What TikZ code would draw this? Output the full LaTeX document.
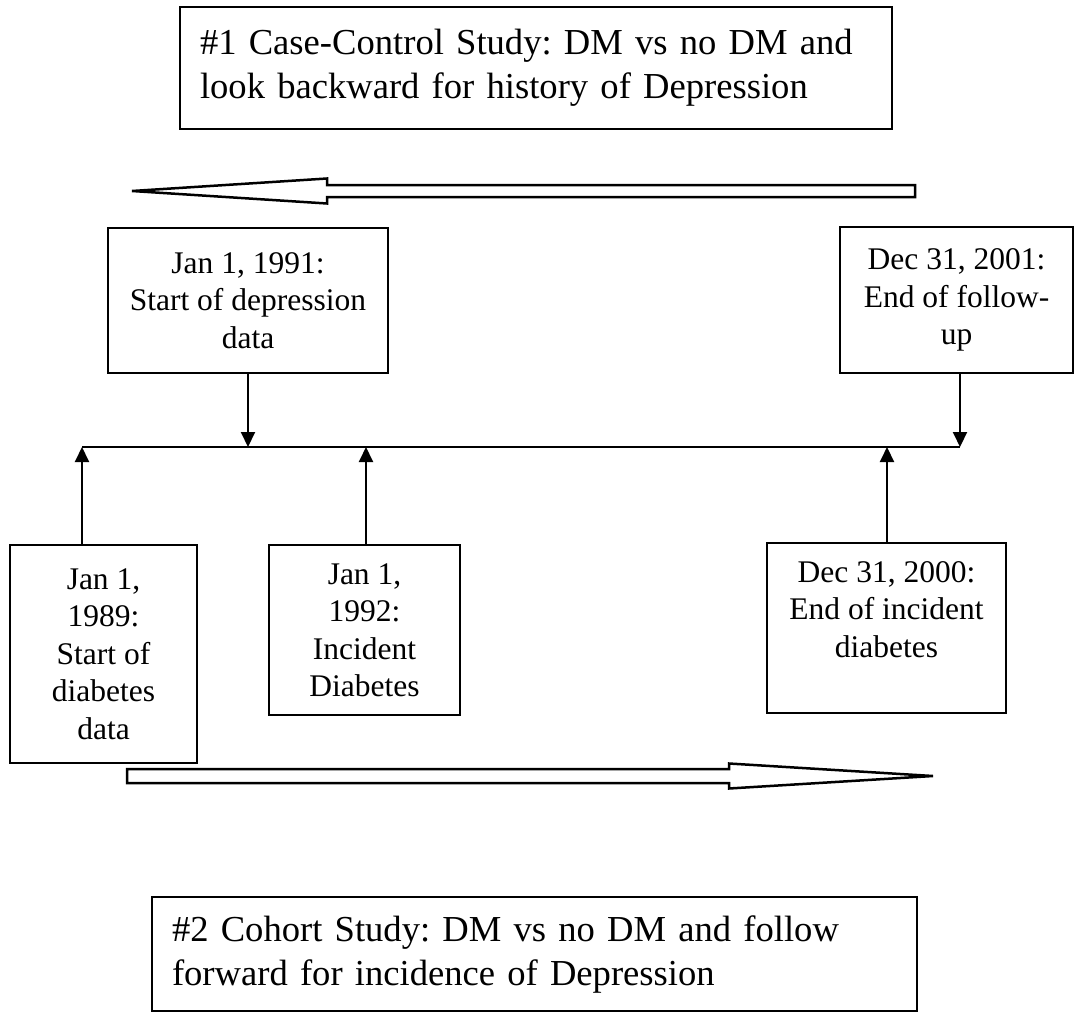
\documentclass[tikz,border=0pt]{standalone}
\usepackage{fontspec}
\setmainfont{Liberation Serif}
\usetikzlibrary{arrows.meta}
\frenchspacing

\tikzset{
  studybox/.style={draw, color=black, line width=2pt, inner xsep=20pt, inner ysep=0pt, align=left, font=\fontsize{36.6}{44}\selectfont},
  datebox/.style={draw, color=black, line width=2pt, inner sep=0pt, align=center, font=\fontsize{31.5}{37.5}\selectfont},
  tick/.style={color=black, line width=2pt, -{Triangle[length=15pt,width=14pt]}},
  hollow/.style={color=black, line width=2.5pt, line join=miter}
}

\begin{document}
\begin{tikzpicture}[x=1pt,y=-1pt]
\useasboundingbox (0,0) rectangle (1075,1014);

\node[studybox, text width=672pt, minimum height=122pt] (casecontrol) at (536,68) {\#1 Case-Control Study: DM vs no DM and\\look backward for history of Depression};
\node[studybox, text width=725pt, minimum height=114pt] (cohort) at (534.5,954) {\#2 Cohort Study: DM vs no DM and follow\\forward for incidence of Depression};

\node[datebox, minimum width=280pt, minimum height=145pt] (depstart) at (248,300.5) {Jan 1, 1991:\\Start of depression\\data};
\node[datebox, minimum width=233pt, minimum height=146pt] (followend) at (956.5,300) {Dec 31, 2001:\\End of follow-\\up};
\node[datebox, minimum width=187pt, minimum height=218pt] (dmstart) at (103.5,654) {Jan 1,\\1989:\\Start of\\diabetes\\data};
\node[datebox, minimum width=191pt, minimum height=170pt] (dmincident) at (364.5,630) {Jan 1,\\1992:\\Incident\\Diabetes};
\node[datebox, minimum width=239pt, minimum height=170pt] (dmend) at (886.5,628) {Dec 31, 2000:\\End of incident\\diabetes\\ \mbox{}};

\coordinate (tdmstart) at (82,447);
\coordinate (tdep) at (248,447);
\coordinate (tinc) at (366,447);
\coordinate (tend) at (887,447);
\coordinate (tfollow) at (960,447);

\draw[color=black, line width=2pt] (tdmstart) -- (tfollow);
\draw[tick] (depstart.south) -- (tdep);
\draw[tick] (followend.south -| tfollow) -- (tfollow);
\draw[tick] (dmstart.north -| tdmstart) -- (tdmstart);
\draw[tick] (dmincident.north -| tinc) -- (tinc);
\draw[tick] (dmend.north -| tend) -- (tend);

\draw[hollow] (132,191) -- (327,178.5) -- (327,185) -- (915,185) -- (915,197) -- (327,197) -- (327,203.5) -- cycle;
\draw[hollow] (933,776) -- (729,763.5) -- (729,769) -- (127,769) -- (127,783) -- (729,783) -- (729,788.5) -- cycle;
\end{tikzpicture}
\end{document}
